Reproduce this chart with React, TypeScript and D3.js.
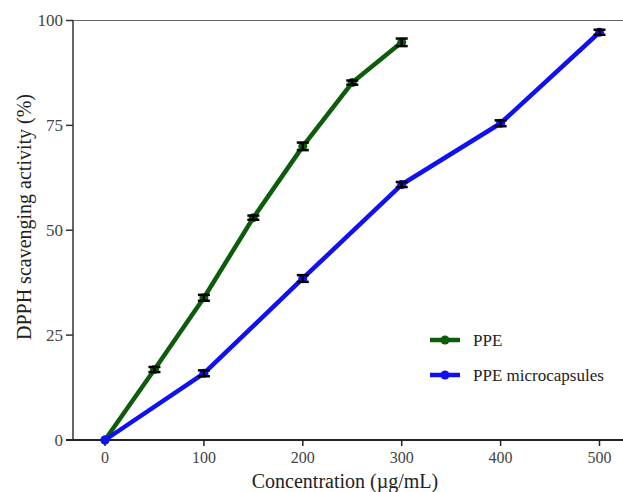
import React from "react";
import * as d3 from "d3";

// concentrations (ug/mL) and DPPH scavenging (%)
const ppeConc = [0, 50, 100, 150, 200, 250, 300];
const ppeVals = [0, 16.8, 33.9, 53.0, 70.0, 85.2, 94.8];
const ppeErr = [0, 0.6, 0.7, 0.5, 0.9, 0.5, 0.9];

const capConc = [0, 100, 200, 300, 400, 500];
const capVals = [0, 15.9, 38.5, 60.9, 75.5, 97.2];
const capErr = [0, 0.7, 0.8, 0.6, 0.7, 0.6];

const xTicks = [0, 100, 200, 300, 400, 500];
const yTicks = [0, 25, 50, 75, 100];

const seriesNames = ["PPE", "PPE microcapsules"];
const seriesColors = ["#0c5c0c", "#1010f2"];

const W = 623;
const H = 492;
const font = "'Liberation Serif', 'Times New Roman', serif";

const App = () => {
  const x = d3.scaleLinear().domain([0, 500]).range([105, 599.5]);
  const y = d3.scaleLinear().domain([0, 100]).range([440, 20.5]);
  const axisLeft = 73;

  const line = d3
    .line<[number, number]>()
    .x(d => x(d[0]))
    .y(d => y(d[1]));

  const series = [
    { name: seriesNames[0], color: seriesColors[0], pts: ppeConc.map((c, i) => [c, ppeVals[i], ppeErr[i]]) },
    { name: seriesNames[1], color: seriesColors[1], pts: capConc.map((c, i) => [c, capVals[i], capErr[i]]) },
  ];

  return (
    <svg
      width={W}
      height={H}
      style={{ position: "absolute", left: 0, top: 0, background: "#fff" }}
    >
      {/* frame top */}
      <line x1={axisLeft} x2={W} y1={y(100)} y2={y(100)} stroke="#666" strokeWidth={1.2} />
      {/* y axis */}
      <line x1={axisLeft} x2={axisLeft} y1={y(100)} y2={y(0)} stroke="#333" strokeWidth={1.5} />
      {yTicks.map(t => (
        <g key={"y" + t}>
          <line x1={axisLeft - 7} x2={axisLeft} y1={y(t)} y2={y(t)} stroke="#333" strokeWidth={1.5} />
          <text
            x={axisLeft - 10}
            y={y(t)}
            textAnchor="end"
            dominantBaseline="central"
            fontFamily={font}
            fontSize={17}
            fill="#444"
          >
            {t}
          </text>
        </g>
      ))}
      {/* x axis */}
      <line x1={axisLeft - 7} x2={W} y1={y(0)} y2={y(0)} stroke="#222" strokeWidth={2} />
      {xTicks.map(t => (
        <g key={"x" + t}>
          <line x1={x(t)} x2={x(t)} y1={y(0)} y2={y(0) + 6} stroke="#222" strokeWidth={1.5} />
          <text
            x={x(t)}
            y={y(0) + 17}
            textAnchor="middle"
            dominantBaseline="central"
            fontFamily={font}
            fontSize={16}
            fill="#444"
          >
            {t}
          </text>
        </g>
      ))}
      <text
        x={345}
        y={481}
        textAnchor="middle"
        dominantBaseline="central"
        fontFamily={font}
        fontSize={20}
        fill="#222"
      >
        Concentration (µg/mL)
      </text>
      <text
        transform="translate(24,217) rotate(-90)"
        textAnchor="middle"
        dominantBaseline="central"
        fontFamily={font}
        fontSize={20}
        fill="#222"
      >
        DPPH scavenging activity (%)
      </text>

      {/* series */}
      {series.map(s => (
        <g key={s.name}>
          <path
            d={line(s.pts.map(p => [p[0], p[1]] as [number, number])) || ""}
            fill="none"
            stroke={s.color}
            strokeWidth={4.5}
            strokeLinejoin="round"
          />
          {s.pts.map((p, i) => (
            <g key={i}>
              <circle cx={x(p[0])} cy={y(p[1])} r={4.5} fill={s.color} />
              {p[0] > 0 && (
                <g stroke="#000" strokeWidth={2.5}>
                  <line x1={x(p[0])} x2={x(p[0])} y1={y(p[1] + p[2])} y2={y(p[1] - p[2])} />
                  <line x1={x(p[0]) - 6} x2={x(p[0]) + 6} y1={y(p[1] + p[2])} y2={y(p[1] + p[2])} />
                  <line x1={x(p[0]) - 6} x2={x(p[0]) + 6} y1={y(p[1] - p[2])} y2={y(p[1] - p[2])} />
                </g>
              )}
            </g>
          ))}
        </g>
      ))}

      {/* legend */}
      {series.map((s, i) => (
        <g key={"leg" + i} transform={`translate(430,${340 + i * 35})`}>
          <line x1={0} x2={30} y1={0} y2={0} stroke={s.color} strokeWidth={4.5} />
          <circle cx={15} cy={0} r={4.5} fill={s.color} />
          <text
            x={43}
            y={0}
            dominantBaseline="central"
            fontFamily={font}
            fontSize={17}
            fill="#222"
          >
            {s.name}
          </text>
        </g>
      ))}
    </svg>
  );
};

export default App;
